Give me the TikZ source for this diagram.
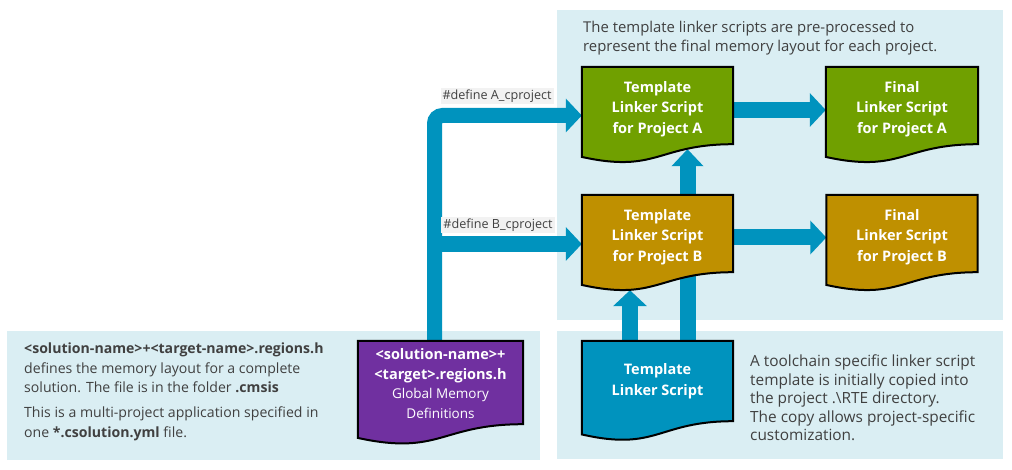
\documentclass[tikz,border=0pt]{standalone}
\usepackage{fontspec}
\setmainfont{Open Sans}
\usetikzlibrary{calc,arrows.meta}
\pgfdeclarelayer{panel}
\pgfdeclarelayer{arrowl}
\pgfdeclarelayer{docl}
\pgfsetlayers{panel,arrowl,docl,main}
\definecolor{panelc}{HTML}{DAEEF3}
\definecolor{arrowc}{HTML}{0093BE}
\definecolor{greenc}{HTML}{70A000}
\definecolor{goldc}{HTML}{BF9000}
\definecolor{bluec}{HTML}{0093BE}
\definecolor{purplec}{HTML}{7030A0}
\definecolor{textc}{HTML}{404040}
\definecolor{labelc}{HTML}{F2F2F2}
% #1 node, #2 colour, #3 upward offset of the shape against the node (pt)
\newcommand{\docshape}[3]{%
  \begin{pgfonlayer}{docl}
  \draw[line width=2pt, draw=black, fill=#2, line join=miter]
    let \p1=(#1.north west), \p2=(#1.south east), \n1={\y1-\y2},
        \n2={\y1+#3pt}, \n3={\y2+#3pt} in
    (\x1,\n2) -- (\x2,\n2) -- (\x2,\n3)
    .. controls ({(\x1+\x2)/2},\n3) and ({(\x1+\x2)/2},{\n3-0.38*\n1}) ..
    (\x1,{\n3-0.1646*\n1}) -- cycle;
  \end{pgfonlayer}}
\newcommand{\gmdfont}{\mdseries\fontsize{13.5}{17.5}\selectfont}
\tikzset{
  panelbox/.style={fill=panelc, draw=none},
  docnode/.style={inner sep=0pt, text=white, align=center,
    font=\fontsize{14.5}{20.5}\selectfont\bfseries},
  bigarrow/.style={draw=arrowc, line width=16pt,
    -{Triangle[length=16pt,width=33pt]}},
  deflabel/.style={fill=labelc, text=textc, inner xsep=2pt, inner ysep=2pt,
    font=\fontsize{12.6}{14}\selectfont},
  note/.style={text=textc, align=left, inner sep=0pt, anchor=north west}
}
\begin{document}
\begin{tikzpicture}[x=1pt,y=-1pt]
\useasboundingbox (0,0) rectangle (1012,470);
% panels
\begin{pgfonlayer}{panel}
\fill[white] (0,0) rectangle (1012,470);
\path[panelbox] (557,10) rectangle (1003,320);
\path[panelbox] (557,331) rectangle (1003,459);
\path[panelbox] (7,331) rectangle (540,460);
\end{pgfonlayer}
% document nodes
\node[docnode, minimum width=151pt, minimum height=77pt] (tplA) at (657.5,109)
  {Template\\Linker Script\\for Project A};
\node[docnode, minimum width=152pt, minimum height=77pt] (finA) at (902,109)
  {Final\\Linker Script\\for Project A};
\node[docnode, minimum width=151pt, minimum height=77pt] (tplB) at (657.5,237)
  {Template\\Linker Script\\for Project B};
\node[docnode, minimum width=151pt, minimum height=77pt] (finB) at (902,237)
  {Final\\Linker Script\\for Project B};
\node[docnode, minimum width=151pt, minimum height=80pt] (tpl) at (657.5,381)
  {Template\\Linker Script};
\node[docnode, minimum width=165pt, minimum height=83pt] (gmd) at (440.5,383.5)
  {\textless solution-name\textgreater+\\\textless target\textgreater.regions.h\\[-2pt]
   \gmdfont Global Memory\\\gmdfont Definitions};
\docshape{tplA}{greenc}{3.5}
\docshape{finA}{greenc}{3.5}
\docshape{tplB}{goldc}{3.5}
\docshape{finB}{goldc}{3.5}
\docshape{tpl}{bluec}{0}
\docshape{gmd}{purplec}{1}
% arrows
\coordinate (lx) at ($(gmd.north)+(-6,-1)$);
\coordinate (aj) at ($(tplA.west)+(0,6.5)$);
\coordinate (bj) at ($(tplB.west)+(0,7)$);
\begin{pgfonlayer}{arrowl}
\draw[bigarrow] ($(tplA.east)+(0,1)$) -- ($(finA.west)+(0,1)$);
\draw[bigarrow] ($(tplB.east)+(0,0.5)$) -- ($(finB.west)+(0,0.5)$);
\draw[bigarrow, -{Triangle[length=17pt,width=31pt]}] ($(tpl.north)+(30,0)$) -- ($(tplA.south)+(30,1.5)$);
\draw[bigarrow] ($(tpl.north)+(-27.5,0)$) -- ($(tplB.south)+(-27.5,14.5)$);
\draw[bigarrow, line width=15pt, rounded corners=8pt] (lx) |- (aj);
\draw[bigarrow] (lx |- bj) -- (bj);
\end{pgfonlayer}
% labels
\node[deflabel] (defA) at (497,96) {\#define A\_cproject};
\node[deflabel] (defB) at (498,225) {\#define B\_cproject};
% notes
\node[note, font=\fontsize{14.9}{18.5}\selectfont] (topnote) at (583,21)
  {The template linker scripts are pre-processed to\\represent the final memory layout for each project.};
\node[note, font=\fontsize{15.4}{18.4}\selectfont] (rtenote) at (750,355)
  {A toolchain specific linker script\\template is initially copied into\\the project .\textbackslash RTE directory.\\The copy allows project-specific\\customization.};
\node[note, font=\fontsize{14.1}{19.3}\selectfont] (slnnote) at (24,343)
  {\textbf{\textless solution-name\textgreater+\textless target-name\textgreater.regions.h}\\
   defines the memory layout for a complete\\
   solution. The file is in the folder \textbf{.cmsis}\\[6pt]
   This is a multi-project application specified in\\
   one \textbf{*.csolution.yml} file.};
\end{tikzpicture}
\end{document}
